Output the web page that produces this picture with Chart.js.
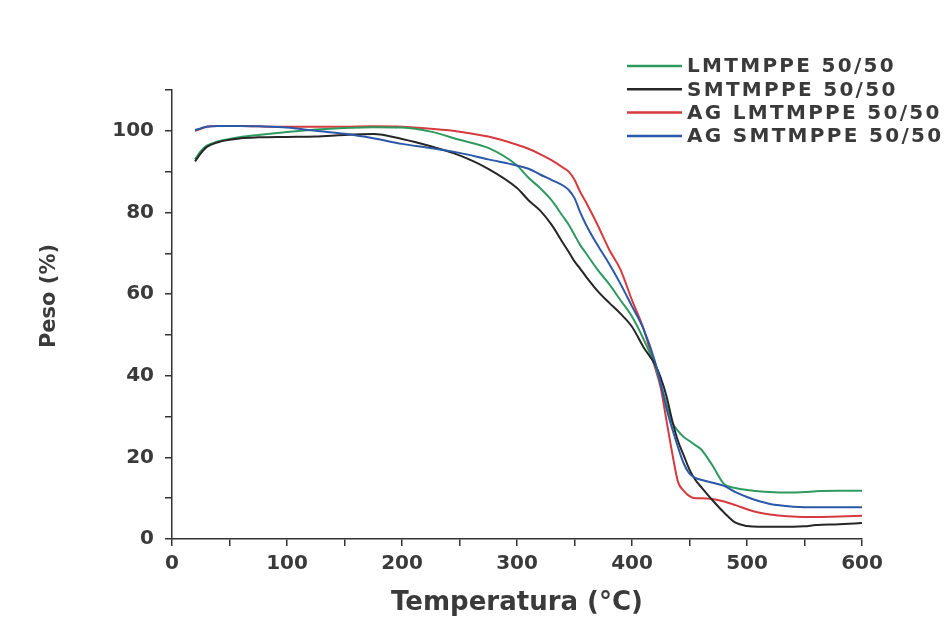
<!DOCTYPE html>
<html>
<head>
<meta charset="utf-8">
<script src="https://cdn.jsdelivr.net/npm/chart.js@4"></script>
<style>
  html, body { margin: 0; padding: 0; background: #ffffff; }
  #wrap { width: 944px; height: 619px; }
</style>
</head>
<body>
<div id="wrap"><canvas id="myChart" width="944" height="619"></canvas></div>
<script>
// temperature grid (°C) shared by all four curves
const tempC = [20, 25, 30, 40, 50, 60, 75, 100, 125, 150, 175, 200, 225, 250, 275, 300,
  310, 320, 330, 340, 345, 350, 355, 360, 370, 380, 390, 400, 410, 420, 425, 430,
  435, 440, 445, 450, 455, 460, 470, 480, 490, 500, 510, 520, 530, 540, 550, 560, 580, 600];

// weight (%)
const lmtmppe = [93, 95, 96.3, 97.4, 98, 98.5, 99, 99.7, 100.3, 100.7, 100.9, 100.8, 99.8, 97.8, 95.8, 91.5,
  88.5, 86, 83, 79, 77, 74.5, 72, 70, 66, 62.5, 58.5, 54.5, 49, 42.5, 38, 33,
  28.5, 26.5, 25, 24, 23, 22, 18, 13.5, 12.5, 12, 11.7, 11.5, 11.4, 11.4, 11.5, 11.7, 11.8, 11.8];
const smtmppe = [92.5, 94.5, 96, 97.2, 97.8, 98.2, 98.4, 98.5, 98.6, 99, 99.2, 98, 96.2, 94, 90.7, 86,
  83, 80.5, 77, 72.5, 70.3, 68, 66.2, 64.3, 60.8, 57.9, 55.2, 52, 47, 42.8, 39.5, 35,
  29, 24, 20.5, 17, 14.5, 12.8, 9.5, 6.5, 4, 3.2, 3, 3, 3, 3, 3.1, 3.4, 3.6, 3.9];
const agLmtmppe = [100, 100.5, 101, 101.2, 101.2, 101.2, 101.1, 101, 101, 101, 101.1, 101, 100.5, 99.8, 98.6, 96.6,
  95.6, 94.3, 92.8, 91, 90, 88, 85, 82.5, 77, 71, 66, 58.5, 51.5, 42, 37, 29,
  21, 14, 11.8, 10.5, 10, 10, 9.8, 9.2, 8.3, 7.3, 6.5, 6, 5.7, 5.5, 5.4, 5.4, 5.5, 5.7];
const agSmtmppe = [100.2, 100.6, 101, 101.2, 101.2, 101.2, 101.1, 100.8, 100, 99.3, 98.2, 96.8, 95.8, 94.6, 93, 91.5,
  90.7, 89.3, 88, 86.6, 85.5, 83.5, 80, 77, 72, 67.5, 62.5, 57, 51.5, 43.5, 38, 32,
  27, 22.5, 18.5, 16, 15, 14.5, 13.8, 13, 11.5, 10.3, 9.3, 8.6, 8.2, 7.9, 7.8, 7.8, 7.8, 7.8];

const seriesNames = ['LMTMPPE 50/50', 'SMTMPPE 50/50', 'AG LMTMPPE 50/50', 'AG SMTMPPE 50/50'];
const seriesValues = [lmtmppe, smtmppe, agLmtmppe, agSmtmppe];
const seriesColors = ['#2f9a5f', '#262626', '#d63a3e', '#2b58a8'];
const drawOrder = [2, 1, 3, 0]; // lower is drawn on top: blue over red at the start

const xTicks = [0, 100, 200, 300, 400, 500, 600];
const yTicks = [0, 20, 40, 60, 80, 100];

const textColor = '#3a3a3a';
const axisColor = '#333333';

// legend stacked at the upper right, y title placed a little above the middle
const extraText = {
    id: 'extraText',
    afterDraw(chart) {
        const ctx = chart.ctx;
        ctx.save();
        ctx.font = 'bold 20px "DejaVu Sans"';
        ctx.letterSpacing = '2.3px';
        ctx.textBaseline = 'middle';
        ctx.fillStyle = textColor;
        chart.data.datasets.forEach(function (ds, i) {
            const y = 66 + i * 23.3;
            ctx.strokeStyle = ds.borderColor;
            ctx.lineWidth = 2.5;
            ctx.beginPath();
            ctx.moveTo(627, y);
            ctx.lineTo(682, y);
            ctx.stroke();
            ctx.fillText(ds.label, 687, y + 1);
        });
        ctx.letterSpacing = '0px';
        ctx.font = 'bold 21px "DejaVu Sans"';
        ctx.textAlign = 'center';
        ctx.translate(50, 296);
        ctx.rotate(-Math.PI / 2);
        ctx.fillText('Peso (%)', 0, 0);
        ctx.restore();
    }
};

const ctx = document.getElementById('myChart').getContext('2d');
const myChart = new Chart(ctx, {
    type: 'line',
    data: {
        datasets: seriesNames.map(function (name, i) {
            return {
                label: name,
                data: tempC.map(function (t, k) { return { x: t, y: seriesValues[i][k] }; }),
                borderColor: seriesColors[i],
                borderWidth: 2,
                pointRadius: 0,
                fill: false,
                order: drawOrder[i],
                cubicInterpolationMode: 'monotone'
            };
        })
    },
    options: {
        responsive: false,
        animation: false,
        layout: { padding: { top: 90, right: 82, left: 0, bottom: 0 } },
        plugins: {
            legend: { display: false },
            tooltip: { enabled: false }
        },
        scales: {
            x: {
                type: 'linear',
                min: 0,
                max: 600,
                afterFit: function (scale) { scale.height = 80; },
                border: { display: true, color: axisColor, width: 1.5 },
                grid: { drawOnChartArea: false, drawTicks: true, tickLength: 7, color: axisColor, lineWidth: 1.5 },
                ticks: {
                    stepSize: 50,
                    autoSkip: false,
                    maxRotation: 0,
                    padding: 6,
                    color: textColor,
                    font: { family: 'DejaVu Sans', size: 20, weight: 'bold' },
                    callback: function (v) { return xTicks.includes(v) ? String(v) : ''; }
                },
                title: {
                    display: true,
                    text: 'Temperatura (°C)',
                    color: textColor,
                    font: { family: 'DejaVu Sans', size: 26, weight: 'bold' },
                    padding: { top: 0, bottom: 0 }
                }
            },
            y: {
                min: 0,
                max: 110,
                afterFit: function (scale) { scale.width = 172; },
                border: { display: true, color: axisColor, width: 1.5 },
                grid: { drawOnChartArea: false, drawTicks: true, tickLength: 7, color: axisColor, lineWidth: 1.5 },
                ticks: {
                    stepSize: 10,
                    autoSkip: false,
                    padding: 11,
                    color: textColor,
                    font: { family: 'DejaVu Sans', size: 20, weight: 'bold' },
                    callback: function (v) { return yTicks.includes(v) ? String(v) : ''; }
                },
                title: { display: false }
            }
        }
    },
    plugins: [extraText]
});
</script>
</body>
</html>
